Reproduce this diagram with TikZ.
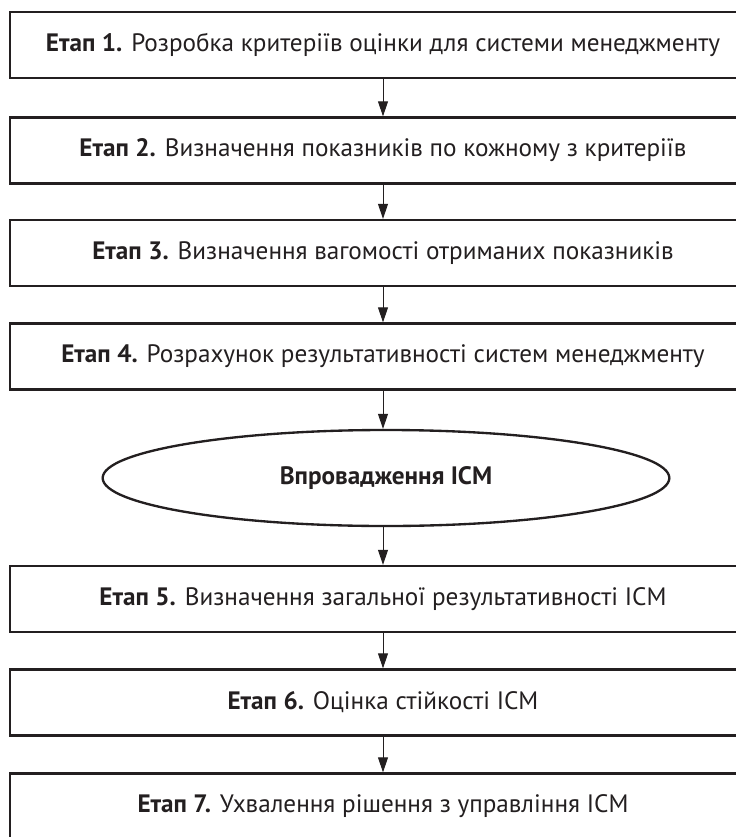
\documentclass[tikz,border=0pt]{standalone}
\usepackage{fontspec}
\setmainfont{PT Sans}
\usepackage{tikz}
\usetikzlibrary{arrows.meta,shapes.geometric}
\definecolor{ink}{RGB}{35,31,32}

\begin{document}
\begin{tikzpicture}[x=0.03cm,y=-0.03cm,
	etap/.style={draw=ink, line width=2pt, minimum width=22.38cm, minimum height=1.98cm, inner sep=0pt, text=ink, font=\fontsize{21.5}{24}\selectfont},
	vprov/.style={ellipse, draw=ink, line width=2pt, minimum width=17cm, minimum height=2.88cm, inner sep=0pt, text=ink, font=\fontsize{21.5}{24}\selectfont\bfseries},
	strilka/.style={ink, line width=0.8pt, -{Triangle[length=0.45cm,width=0.3cm]}}]
				
				\useasboundingbox (0,0) rectangle (736,837);
				\clip (0,0) rectangle (736,837);
				\node[etap] (e1) at (383,45) {\textbf{Етап 1.} Розробка критеріїв оцінки для системи менеджменту};
				\node[etap] (e2) at (383,150.5) {\textbf{Етап 2.} Визначення показників по кожному з критеріїв};
				\node[etap] (e3) at (383,253) {\textbf{Етап 3.} Визначення вагомості отриманих показників};
				\node[etap] (e4) at (383,356.5) {\textbf{Етап 4.} Розрахунок результативності систем менеджменту};
				\node[vprov] (icm) at (386,478) {Впровадження ІСМ};
				\node[etap] (e5) at (383,599) {\textbf{Етап 5.} Визначення загальної результативності ІСМ};
				\node[etap] (e6) at (383,702.5) {\textbf{Етап 6.} Оцінка стійкості ІСМ};
				\node[etap] (e7) at (383,806.5) {\textbf{Етап 7.} Ухвалення рішення з управління ІСМ};
				\draw[strilka] (e1) -- (e2);
				\draw[strilka] (e2) -- (e3);
				\draw[strilka] (e3) -- (e4);
				\draw[strilka] (e4.south) -- (e4.south |- icm.north);
				\draw[strilka] (e5.north |- icm.south) -- (e5);
				\draw[strilka] (e5) -- (e6);
				\draw[strilka] (e6) -- (e7);
			\end{tikzpicture}
\end{document}
